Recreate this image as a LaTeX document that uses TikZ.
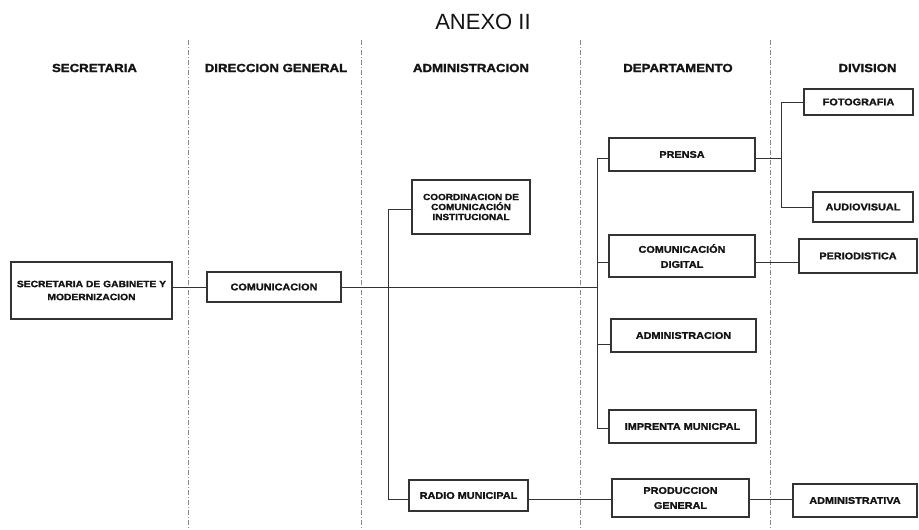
\documentclass[tikz,border=0pt]{standalone}
\usepackage{fontspec}
\setmainfont{Liberation Sans}
\newfontfamily\bx[FakeStretch=1.12,FakeBold=1.6]{Liberation Sans Bold}
\definecolor{ink}{HTML}{141414}
\definecolor{edge}{HTML}{333333}
\definecolor{divc}{HTML}{8A8A8A}
\begin{document}
\begin{tikzpicture}[x=1pt,y=-1pt,
  box/.style={draw=edge,line width=1.1pt,inner sep=0pt,align=center,text=ink,
    font=\bx\fontsize{9.7}{15}\selectfont},
  hdr/.style={inner sep=0pt,text=ink,font=\bx\fontsize{11.8}{13}\selectfont},
  link/.style={draw=edge,line width=0.9pt},
  divider/.style={draw=divc,line width=0.8pt,dash pattern=on 5pt off 2pt on 1pt off 2pt}]
\fill[white] (0,0) rectangle (919,530);
\useasboundingbox (0,0) rectangle (919,530);

% title
\node[inner sep=0pt,text=ink,font=\fontsize{22}{24}\selectfont] (title) at (483,22) {ANEXO II};

% column headers
\node[hdr] (h1) at (94.5,68) {SECRETARIA};
\node[hdr] (h2) at (276,68) {DIRECCION GENERAL};
\node[hdr] (h3) at (471,68) {ADMINISTRACION};
\node[hdr] (h4) at (678,68) {DEPARTAMENTO};
\node[hdr] (h5) at (867.5,68) {DIVISION};

% dividers
\draw[divider] (188,40) -- (188,530);
\draw[divider] (361,40) -- (361,530);
\draw[divider] (580,40) -- (580,530);
\draw[divider] (770,40) -- (770,530);

% boxes
\node[box,minimum width=161pt,minimum height=57pt,font=\bx\fontsize{9.2}{13}\selectfont] (sec) at (91.5,290.5) {SECRETARIA DE GABINETE Y\\MODERNIZACION};
\node[box,minimum width=134pt,minimum height=30pt] (com) at (274,287) {COMUNICACION};
\node[box,minimum width=118pt,minimum height=54pt,font=\bx\fontsize{8.9}{10}\selectfont] (coord) at (471,207) {COORDINACION DE\\COMUNICACIÓN\\INSTITUCIONAL};
\node[box,minimum width=119pt,minimum height=31pt] (radio) at (468.5,495.5) {RADIO MUNICIPAL};
\node[box,minimum width=146pt,minimum height=33pt] (prensa) at (682,154.5) {PRENSA};
\node[box,minimum width=146pt,minimum height=42pt] (cdig) at (682,256) {COMUNICACIÓN\\DIGITAL};
\node[box,minimum width=145pt,minimum height=33pt] (adm) at (683.5,335.5) {ADMINISTRACION};
\node[box,minimum width=147pt,minimum height=33pt] (impr) at (682.5,426.5) {IMPRENTA MUNICPAL};
\node[box,minimum width=137pt,minimum height=38pt] (prod) at (680.5,498) {PRODUCCION\\GENERAL};
\node[box,minimum width=109pt,minimum height=26pt] (foto) at (858.5,102) {FOTOGRAFIA};
\node[box,minimum width=100pt,minimum height=30pt] (audio) at (863,207) {AUDIOVISUAL};
\node[box,minimum width=118pt,minimum height=34pt] (peri) at (858,256) {PERIODISTICA};
\node[box,minimum width=124pt,minimum height=33pt] (admva) at (855,500.5) {ADMINISTRATIVA};

% trunk coordinates
\coordinate (mainend) at (597,287);
\coordinate (atop) at (388,209);
\coordinate (abot) at (388,499);
\coordinate (dtop) at (597,158);
\coordinate (dcd) at (597,262);
\coordinate (dadm) at (597,344);
\coordinate (dbot) at (597,428);
\coordinate (vtop) at (781,102);
\coordinate (vmid) at (781,158);
\coordinate (vbot) at (781,207);

% connectors
\draw[link] (sec.east |- com.west) -- (com.west);
\draw[link] (com.east) -- (mainend);
\draw[link] (coord.west |- atop) -- (atop) -- (abot) -- (radio.west |- abot);
\draw[link] (radio.east |- abot) -- (prod.west |- abot);
\draw[link] (prod.east |- abot) -- (admva.west |- abot);
\draw[link] (prensa.west |- dtop) -- (dtop) -- (dbot) -- (impr.west |- dbot);
\draw[link] (dcd) -- (cdig.west |- dcd);
\draw[link] (dadm) -- (adm.west |- dadm);
\draw[link] (prensa.east |- vmid) -- (vmid);
\draw[link] (foto.west) -- (vtop) -- (vbot) -- (audio.west |- vbot);
\draw[link] (cdig.east |- dcd) -- (peri.west |- dcd);
\end{tikzpicture}
\end{document}
